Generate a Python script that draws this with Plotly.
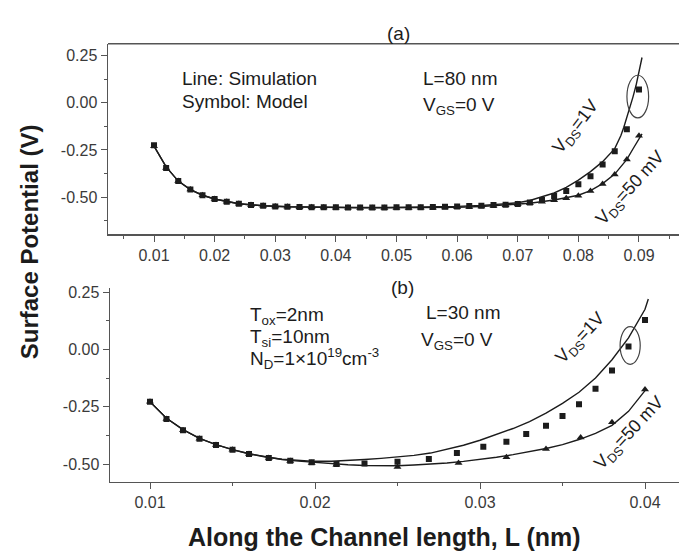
import plotly.graph_objects as go

# ---------------- data ----------------
# (a) L = 80 nm : model points (symbols)
XA_MODEL = [0.010, 0.012, 0.014, 0.016, 0.018, 0.020, 0.022, 0.024, 0.026, 0.028,
            0.030, 0.032, 0.034, 0.036, 0.038, 0.040, 0.042, 0.044, 0.046, 0.048,
            0.050, 0.052, 0.054, 0.056, 0.058, 0.060, 0.062, 0.064, 0.066, 0.068,
            0.070, 0.072, 0.074, 0.076, 0.078, 0.080, 0.082, 0.084, 0.086, 0.088, 0.090]
A_MODEL_1V = [-0.225, -0.345, -0.415, -0.46, -0.49, -0.51, -0.525, -0.535, -0.542, -0.546,
              -0.549, -0.551, -0.552, -0.553, -0.554, -0.554, -0.555, -0.555, -0.555, -0.555,
              -0.554, -0.554, -0.553, -0.552, -0.551, -0.549, -0.547, -0.545, -0.542, -0.540,
              -0.536, -0.529, -0.515, -0.494, -0.467, -0.432, -0.389, -0.327, -0.257, -0.14, 0.07]
A_MODEL_50MV = [-0.23, -0.345, -0.415, -0.46, -0.49, -0.51, -0.525, -0.535, -0.542, -0.546,
                -0.549, -0.551, -0.553, -0.554, -0.555, -0.556, -0.556, -0.557, -0.557, -0.557,
                -0.557, -0.557, -0.556, -0.556, -0.555, -0.554, -0.552, -0.550, -0.547, -0.543,
                -0.538, -0.532, -0.525, -0.517, -0.506, -0.492, -0.467, -0.43, -0.38, -0.30, -0.175]

# (a) simulation curves (lines)
XA_SIM_1V = [0.010, 0.012, 0.014, 0.016, 0.018, 0.020, 0.024, 0.028, 0.032, 0.036,
             0.040, 0.044, 0.048, 0.052, 0.056, 0.060, 0.064, 0.068, 0.070, 0.072,
             0.074, 0.076, 0.078, 0.080, 0.082, 0.084, 0.086, 0.087, 0.0875, 0.088,
             0.0885, 0.089, 0.0895, 0.090, 0.0905]
A_SIM_1V = [-0.23, -0.34, -0.415, -0.46, -0.49, -0.51, -0.535, -0.546, -0.551, -0.553,
            -0.554, -0.555, -0.555, -0.554, -0.552, -0.549, -0.544, -0.536, -0.530, -0.518,
            -0.50, -0.478, -0.448, -0.41, -0.365, -0.312, -0.243, -0.175, -0.13, -0.08,
            -0.03, 0.03, 0.09, 0.16, 0.24]
XA_SIM_50MV = [0.010, 0.012, 0.014, 0.016, 0.018, 0.020, 0.024, 0.028, 0.032, 0.036,
               0.040, 0.044, 0.048, 0.052, 0.056, 0.060, 0.064, 0.068, 0.072, 0.076,
               0.080, 0.082, 0.084, 0.086, 0.088, 0.089, 0.090, 0.0905]
A_SIM_50MV = [-0.23, -0.34, -0.415, -0.46, -0.49, -0.51, -0.535, -0.546, -0.551, -0.554,
              -0.556, -0.557, -0.557, -0.557, -0.556, -0.554, -0.550, -0.543, -0.532, -0.515,
              -0.49, -0.465, -0.428, -0.378, -0.30, -0.245, -0.19, -0.165]

# (b) L = 30 nm : model points
XB_MODEL_1V = [0.010, 0.011, 0.012, 0.013, 0.014, 0.015, 0.016, 0.0172, 0.0185, 0.0198,
               0.0213, 0.023, 0.025, 0.0269, 0.0286, 0.0302, 0.0316, 0.0328, 0.034, 0.035,
               0.036, 0.037, 0.038, 0.039, 0.040]
B_MODEL_1V = [-0.228, -0.304, -0.352, -0.39, -0.417, -0.438, -0.456, -0.473, -0.485, -0.492,
              -0.500, -0.497, -0.49, -0.478, -0.452, -0.424, -0.403, -0.369, -0.333, -0.29,
              -0.239, -0.172, -0.092, 0.013, 0.128]
XB_MODEL_50MV = [0.010, 0.011, 0.012, 0.013, 0.014, 0.015, 0.016, 0.0172, 0.0185, 0.0198,
                 0.0213, 0.025, 0.0287, 0.0316, 0.034, 0.0361, 0.038, 0.040]
B_MODEL_50MV = [-0.228, -0.304, -0.352, -0.39, -0.417, -0.438, -0.456, -0.473, -0.487, -0.495,
                -0.503, -0.513, -0.495, -0.47, -0.434, -0.384, -0.318, -0.175]

# (b) simulation curves
XB_SIM_1V = [0.010, 0.011, 0.012, 0.013, 0.014, 0.015, 0.016, 0.017, 0.018, 0.019,
             0.020, 0.021, 0.022, 0.023, 0.024, 0.025, 0.026, 0.027, 0.028, 0.029,
             0.030, 0.031, 0.032, 0.033, 0.034, 0.035, 0.036, 0.037, 0.038, 0.039,
             0.040, 0.0402]
B_SIM_1V = [-0.228, -0.30, -0.35, -0.388, -0.415, -0.437, -0.455, -0.469, -0.479, -0.485,
            -0.488, -0.488, -0.485, -0.480, -0.475, -0.469, -0.462, -0.452, -0.436, -0.418,
            -0.396, -0.372, -0.345, -0.315, -0.278, -0.235, -0.187, -0.125, -0.045, 0.05,
            0.175, 0.22]
XB_SIM_50MV = [0.010, 0.011, 0.012, 0.013, 0.014, 0.015, 0.016, 0.017, 0.018, 0.019,
               0.020, 0.021, 0.022, 0.023, 0.024, 0.025, 0.026, 0.027, 0.028, 0.029,
               0.030, 0.031, 0.032, 0.033, 0.034, 0.035, 0.036, 0.037, 0.038, 0.039,
               0.040]
B_SIM_50MV = [-0.228, -0.30, -0.35, -0.388, -0.415, -0.437, -0.455, -0.469, -0.480, -0.487,
              -0.493, -0.499, -0.503, -0.506, -0.507, -0.507, -0.504, -0.500, -0.495, -0.488,
              -0.480, -0.470, -0.459, -0.446, -0.432, -0.415, -0.393, -0.366, -0.331, -0.27,
              -0.18]

Y_TICKS = [0.25, 0.0, -0.25, -0.5]
Y_TICK_TEXT = ["0.25", "0.00", "-0.25", "-0.50"]
XA_TICKS = [0.01, 0.02, 0.03, 0.04, 0.05, 0.06, 0.07, 0.08, 0.09]
XB_TICKS = [0.01, 0.02, 0.03, 0.04]

# ---------------- styling ----------------
W, H = 679, 551
INK = "#1c1c1c"
AXIS = "#555555"
FONT = "Liberation Sans, Arial, sans-serif"


def px(x):
    return x / W


def py(y):
    return 1 - y / H


fig = go.Figure()


def add_line(x, y, xa, ya):
    fig.add_trace(go.Scatter(x=x, y=y, mode="lines", xaxis=xa, yaxis=ya,
                             line=dict(color=INK, width=1.4), hoverinfo="skip"))


def add_marks(x, y, symbol, xa, ya, size=7):
    fig.add_trace(go.Scatter(x=x, y=y, mode="markers", xaxis=xa, yaxis=ya,
                             marker=dict(symbol=symbol, size=size, color=INK,
                                         line=dict(width=0)),
                             hoverinfo="skip"))


# panel (a)
add_line(XA_SIM_50MV, A_SIM_50MV, "x", "y")
add_line(XA_SIM_1V, A_SIM_1V, "x", "y")
add_marks(XA_MODEL, A_MODEL_50MV, "triangle-up", "x", "y", 7)
add_marks(XA_MODEL, A_MODEL_1V, "square", "x", "y", 6)

# panel (b)
add_line(XB_SIM_50MV, B_SIM_50MV, "x2", "y2")
add_line(XB_SIM_1V, B_SIM_1V, "x2", "y2")
add_marks(XB_MODEL_50MV, B_MODEL_50MV, "triangle-up", "x2", "y2", 7)
add_marks(XB_MODEL_1V, B_MODEL_1V, "square", "x2", "y2", 6)

tickfont = dict(family=FONT, size=16, color="#3a3a3a")
common_axis = dict(showline=True, linecolor=AXIS, linewidth=1.5, showgrid=False,
                   zeroline=False, ticks="outside", ticklen=6, tickwidth=1,
                   tickcolor=AXIS, tickfont=tickfont, fixedrange=True)

fig.update_layout(
    width=W, height=H,
    margin=dict(l=0, r=0, t=0, b=0),
    paper_bgcolor="white", plot_bgcolor="white",
    showlegend=False,
    xaxis=dict(common_axis, domain=[px(108), 1], range=[0.00241, 0.0966],
               tickvals=XA_TICKS, tickformat=".2f", anchor="y",
               ticklabelstandoff=0,
               minor=dict(ticks="outside", dtick=0.005, tick0=0, ticklen=3,
                          tickcolor=AXIS)),
    yaxis=dict(common_axis, domain=[py(232), py(40)], range=[-0.697, 0.313],
               tickvals=Y_TICKS, ticktext=Y_TICK_TEXT, anchor="x",
               minor=dict(ticks="outside", dtick=0.125, tick0=0, ticklen=3,
                          tickcolor=AXIS)),
    xaxis2=dict(common_axis, domain=[px(110), 1], range=[0.007576, 0.04206],
                tickvals=XB_TICKS, tickformat=".2f", anchor="y2",
                ticklabelstandoff=0,
                minor=dict(ticks="outside", dtick=0.005, tick0=0, ticklen=3,
                           tickcolor=AXIS)),
    yaxis2=dict(common_axis, domain=[py(481), py(286)], range=[-0.576, 0.268],
                tickvals=Y_TICKS, ticktext=Y_TICK_TEXT, anchor="x2",
                minor=dict(ticks="outside", dtick=0.125, tick0=0, ticklen=3,
                           tickcolor=AXIS)),
)

# top frame line of panel (a)
fig.add_shape(type="line", xref="paper", yref="paper",
              x0=px(108), x1=1, y0=py(40), y1=py(40),
              line=dict(color=AXIS, width=1.5))

# circled points
fig.add_shape(type="circle", xref="x", yref="y",
              x0=0.08801, x1=0.09159, y0=-0.08, y1=0.146,
              line=dict(color="#444444", width=1.2))
fig.add_shape(type="circle", xref="x2", yref="y2",
              x0=0.03849, x1=0.03971, y0=-0.065, y1=0.099,
              line=dict(color="#444444", width=1.2))


def note(text, x, y, size=19, anchor="left", angle=0, bold=False):
    if bold:
        text = "<b>" + text + "</b>"
    fig.add_annotation(text=text, xref="paper", yref="paper", x=px(x), y=py(y),
                       xanchor=anchor, yanchor="middle", showarrow=False,
                       textangle=angle,
                       font=dict(family=FONT, size=size, color=INK))


# panel (a) texts
note("(a)", 398, 30, 19, "center")
note("Line: Simulation", 180, 75)
note("Symbol: Model", 180, 98)
note("L=80 nm", 421, 75)
note("V<sub>GS</sub>=0 V", 421, 103)
note("V<sub>DS</sub>=1V", 576, 124, 18, "center", -52)
note("V<sub>DS</sub>=50 mV", 631, 186, 18, "center", -48)

# panel (b) texts
note("(b)", 402, 286, 19, "center")
note("T<sub>ox</sub>=2nm", 248, 314)
note("T<sub>si</sub>=10nm", 248, 336)
note("N<sub>D</sub>=1×10<sup>19</sup>cm<sup>-3</sup>", 248, 357)
note("L=30 nm", 424, 311)
note("V<sub>GS</sub>=0 V", 419, 339)
note("V<sub>DS</sub>=1V", 581, 337, 18, "center", -47)
note("V<sub>DS</sub>=50 mV", 630, 433, 18, "center", -47)

# axis titles shared by both panels
note("Surface Potential (V)", 29, 240, 24, "center", -90, bold=True)
note("Along the Channel length, L (nm)", 186, 537, 25, "left", bold=True)

fig.write_html("out.html", config={"displayModeBar": False, "staticPlot": True})
